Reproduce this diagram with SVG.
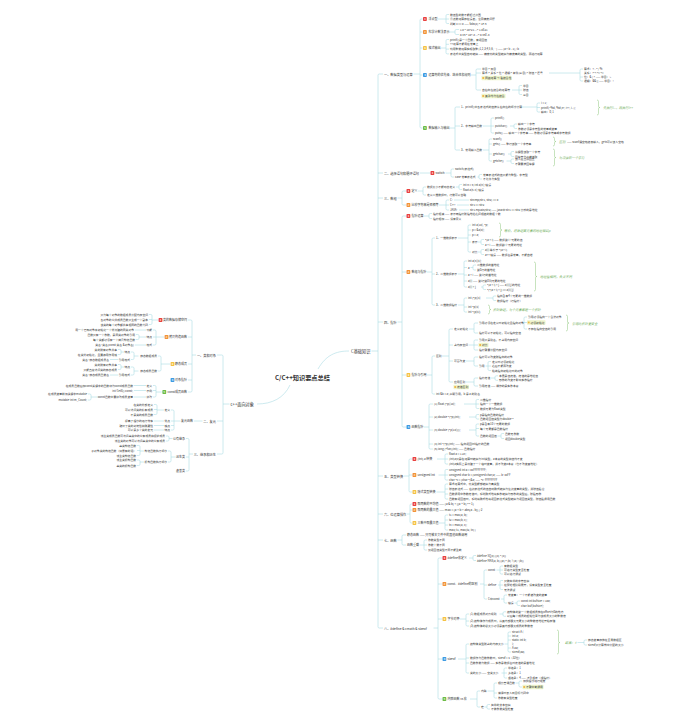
<svg xmlns="http://www.w3.org/2000/svg" width="675" height="715" viewBox="0 0 675 715">
<style>
text{font-family:"Noto Sans CJK SC","Noto Sans",sans-serif;font-size:2.8px;fill:#333;dominant-baseline:central}
.root{font-size:6.2px;font-weight:bold;text-anchor:middle}
.m{font-size:4.2px}
.h1{font-size:3.2px}
.h2{font-size:3px}
.e{text-anchor:end}
.g{fill:#6fae5a;font-style:italic;font-size:3.2px}
.n{fill:#fff;font-size:2.6px;font-weight:bold;text-anchor:middle}
.c{fill:none;stroke:#a3d9e1;stroke-width:.55}
.b{fill:none;stroke:#8fc67c;stroke-width:.5}
.i1{fill:#e8413f}.i2{fill:#f29337}.i3{fill:#f5c243}.i4{fill:#3e9be2}.i5{fill:#6dbb45}
.hl{fill:#eef5cb}.pn{fill:#f0b340}
</style>
<rect width="675" height="715" fill="#fff"/>
<g id="connectors">
<path class="c" d="M318 369C326 355 336 351 349 351M290 385C284 398 272 404 257 404"/>
<path class="c" d="M371.5 351H378M383 74H379.2Q378 74 378 75.2V626.8Q378 628 379.2 628H383M378 173H383M378 198H383M378 322H383M378 476H383M378 514H383M378 540H383"/>
<path class="c" d="M413.5 74H420M422.5 19H421.2Q420 19 420 20.2V126.8Q420 128 421.2 128H422.5M420 32H422.5M420 48H422.5M420 75H422.5"/>
<path class="c" d="M437.5 19H446M449 14.5H447.2Q446 14.5 446 15.7V22.3Q446 23.5 447.2 23.5H449M446 19H449"/>
<path class="c" d="M449.5 32H455M459 29.5H456.2Q455 29.5 455 30.7V33.3Q455 34.5 456.2 34.5H459"/>
<path class="c" d="M440.5 48H446M449 39.5H447.2Q446 39.5 446 40.7V52.7Q446 53.9 447.2 53.9H449M446 44.3H449M446 49.1H449"/>
<path class="c" d="M470.5 75H476M481 69H477.2Q476 69 476 70.2V88.8Q476 90 477.2 90H481M476 73H481"/>
<path class="c" d="M549 73H580M583 69H581.2Q580 69 580 70.2V79.8Q580 81 581.2 81H583M580 77H583"/>
<path class="c" d="M512 90H519M522 85.5H520.2Q519 85.5 519 86.7V93.3Q519 94.5 520.2 94.5H522M519 90H522"/>
<path class="c" d="M449.5 128H455M460 107H456.2Q455 107 455 108.2V148.8Q455 150 456.2 150H460M455 126H460"/>
<path class="c" d="M521 107H537M540 103H538.2Q537 103 537 104.2V110.8Q537 112 538.2 112H540M537 107.5H540"/>
<path class="c" d="M483 126H491M494 118H492.2Q491 118 491 119.2V131.8Q491 133 492.2 133H494M491 126H494"/>
<path class="c" d="M510 126H514M517 124H515.2Q514 124 514 125.2V127.3Q514 128.5 515.2 128.5H517"/>
<path class="c" d="M483 150H489M492 139H490.2Q489 139 489 140.2V159.8Q489 161 490.2 161H492M489 144H492M489 154H492"/>
<path class="c" d="M508 154H511M514 151.5H512.2Q511 151.5 511 152.7V155.3Q511 156.5 512.2 156.5H514"/>
<path class="c" d="M506.5 161H511M514 159H512.2Q511 159 511 160.2V162.3Q511 163.5 512.2 163.5H514"/>
<path class="c" d="M420 173H430M445.5 173H451M454 169H452.2Q451 169 451 170.2V175.8Q451 177 452.2 177H454"/>
<path class="c" d="M477.5 177H479M482 174.5H480.2Q479 174.5 479 175.7V177.8Q479 179 480.2 179H482"/>
<path class="c" d="M397.5 198H402M406 191H403.2Q402 191 402 192.2V203.8Q402 205 403.2 205H406"/>
<path class="c" d="M418 191H423M426 187H424.2Q423 187 423 188.2V193.8Q423 195 424.2 195H426"/>
<path class="c" d="M456 187H459M462 184.5H460.2Q459 184.5 459 185.7V188.3Q459 189.5 460.2 189.5H462"/>
<path class="c" d="M439 205H446M449 200H447.2Q446 200 446 201.2V208.8Q446 210 447.2 210H449M446 205H449M454 200H469M457 205H469M459 210H469"/>
<path class="c" d="M397.5 322H402M406 216H403.2Q402 216 402 217.2V425.8Q402 427 403.2 427H406M402 272H406M402 375H406"/>
<path class="c" d="M424 216H429M432 213.5H430.2Q429 213.5 429 214.7V217.3Q429 218.5 430.2 218.5H432"/>
<path class="c" d="M427 272H432M435 238H433.2Q432 238 432 239.2V303.8Q432 305 433.2 305H435M432 274H435"/>
<path class="c" d="M458 238H468M471 225H469.2Q468 225 468 226.2V250.8Q468 252 469.2 252H471M468 230H471M468 235H471M468 242H471"/>
<path class="c" d="M478 242H481M484 239.5H482.2Q481 239.5 481 240.7V243.3Q481 244.5 482.2 244.5H484"/>
<path class="c" d="M478 252H481M484 249.5H482.2Q481 249.5 481 250.7V253.3Q481 254.5 482.2 254.5H484"/>
<path class="c" d="M458 274H464M467 261H465.2Q464 261 464 262.2V285.8Q464 287 465.2 287H467M464 267.5H467M464 275H467M464 281H467"/>
<path class="c" d="M470.5 267.5H473M476 265H474.2Q473 265 473 266.2V268.8Q473 270 474.2 270H476"/>
<path class="c" d="M481 287H483M486 285H484.2Q483 285 483 286.2V288.3Q483 289.5 484.2 289.5H486"/>
<path class="c" d="M458 305H464M467 298H465.2Q464 298 464 299.2V310.8Q464 312 465.2 312H467M464 307H467"/>
<path class="c" d="M486 298H493M496 296H494.2Q493 296 493 297.2V299.3Q493 300.5 494.2 300.5H496"/>
<path class="c" d="M427 375H432M435 356H433.2Q432 356 432 357.2V392.8Q432 394 433.2 394H435"/>
<path class="c" d="M442 356H449M453 329H450.2Q449 329 449 330.2V380.8Q449 382 450.2 382H453M449 345H453M449 361H453"/>
<path class="c" d="M469 329H474M478 323H475.2Q474 323 474 324.2V331.8Q474 333 475.2 333H478"/>
<path class="c" d="M522 323H524M527 317H525.2Q524 317 524 318.2V327.8Q524 329 525.2 329H527M524 322.5H527"/>
<path class="c" d="M469 345H474M478 340H475.2Q474 340 474 341.2V348.8Q474 350 475.2 350H478M474 345H478"/>
<path class="c" d="M466 361H474M478 357H475.2Q474 357 474 358.2V364.8Q474 366 475.2 366H478"/>
<path class="c" d="M485.5 366H488M491 361.5H489.2Q488 361.5 488 362.7V369.3Q488 370.5 489.2 370.5H491M488 366H491"/>
<path class="c" d="M466 382H474M478 378H475.2Q474 378 474 379.2V384.8Q474 386 475.2 386H478"/>
<path class="c" d="M491 378H495M498 375.8H496.2Q495 375.8 495 377V379.1Q495 380.3 496.2 380.3H498"/>
<path class="c" d="M424 427H429M433 404H430.2Q429 404 429 405.2V447.8Q429 449 430.2 449H433M429 417H433M429 430H433M429 444H433"/>
<path class="c" d="M464 404H476M479 399.5H477.2Q476 399.5 476 400.7V407.3Q476 408.5 477.2 408.5H479M476 404H479"/>
<path class="c" d="M469 417H476M479 414.5H477.2Q476 414.5 476 415.7V417.8Q476 419 477.2 419H479"/>
<path class="c" d="M469 430H476M479 424H477.2Q476 424 476 425.2V434.8Q476 436 477.2 436H479M476 428.5H479"/>
<path class="c" d="M497.5 436H501M504 433.5H502.2Q501 433.5 501 434.7V437.3Q501 438.5 502.2 438.5H504"/>
<path class="c" d="M404 476H409M412 459H410.2Q409 459 409 460.2V490.8Q409 492 410.2 492H412M409 475H412"/>
<path class="c" d="M437 459H445M448 454H446.2Q445 454 445 455.2V462.8Q445 464 446.2 464H448M445 459H448"/>
<path class="c" d="M438.5 475H445M448 469.5H446.2Q445 469.5 445 470.7V478.8Q445 480 446.2 480H448M445 475H448"/>
<path class="c" d="M436.5 492H445M448 484H446.2Q445 484 445 485.2V497.8Q445 499 446.2 499H448M445 489H448M445 494H448"/>
<path class="c" d="M407 514H410M412 504H411.2Q410 504 410 505.2V521.8Q410 523 411.2 523H412M410 510H412"/>
<path class="c" d="M439 523H445M448 515H446.2Q445 515 445 516.2V528.8Q445 530 446.2 530H448M445 520H448M445 525H448"/>
<path class="c" d="M397.5 540H402M406 535H403.2Q402 535 402 536.2V543.8Q402 545 403.2 545H406"/>
<path class="c" d="M419.5 545H424M427 540H425.2Q424 540 424 541.2V548.8Q424 550 425.2 550H427M424 545H427"/>
<path class="c" d="M433.5 628H438M442 558H439.2Q438 558 438 559.2V697.8Q438 699 439.2 699H442M438 584H442M438 619H442M438 659H442"/>
<path class="c" d="M469 558H473M476 555.5H474.2Q473 555.5 473 556.7V559.3Q473 560.5 474.2 560.5H476"/>
<path class="c" d="M480 584H484M487 570H485.2Q484 570 484 571.2V597.8Q484 599 485.2 599H487M484 585H487"/>
<path class="c" d="M496.5 570H500M503 566H501.2Q500 566 500 567.2V572.8Q500 574 501.2 574H503M500 570H503"/>
<path class="c" d="M498 585H500M503 580.5H501.2Q500 580.5 500 581.7V588.3Q500 589.5 501.2 589.5H503M500 585H503"/>
<path class="c" d="M501 599H504M507 595H505.2Q504 595 504 596.2V601.8Q504 603 505.2 603H507"/>
<path class="c" d="M514.5 603H517M520 601H518.2Q517 601 517 602.2V604.3Q517 605.5 518.2 605.5H520"/>
<path class="c" d="M460 619H466M469 614H467.2Q466 614 466 615.2V624.8Q466 626 467.2 626H469M466 621H469"/>
<path class="c" d="M499.5 614H503M506 611.8H504.2Q503 611.8 503 613V615.1Q503 616.3 504.2 616.3H506"/>
<path class="c" d="M458 659H466M469 644H467.2Q466 644 466 645.2V671.8Q466 673 467.2 673H469M466 658H469M466 663H469"/>
<path class="c" d="M504.5 644H508M511 632H509.2Q508 632 508 633.2V650.8Q508 652 509.2 652H511M508 636H511M508 640H511M508 648H511"/>
<path class="c" d="M577.5 642.5H584M587 640H585.2Q584 640 584 641.2V643.8Q584 645 585.2 645H587"/>
<path class="c" d="M501.5 673H504M507 668H505.2Q504 668 504 669.2V676.8Q504 678 505.2 678H507M504 673H507"/>
<path class="c" d="M470 699H477M480 691H478.2Q477 691 477 692.2V705.8Q477 707 478.2 707H480"/>
<path class="c" d="M487.5 691H494M497 683H495.2Q494 683 494 684.2V696.8Q494 698 495.2 698H497M494 693H497"/>
<path class="c" d="M515.5 683H519M522 681H520.2Q519 681 519 682.2V685.8Q519 687 520.2 687H522"/>
<path class="c" d="M484.5 707H487M490 704.5H488.2Q487 704.5 487 705.7V707.8Q487 709 488.2 709H490"/>
<path class="c" d="M229.5 404H223M217 355H221.8Q223 355 223 356.2V452.8Q223 454 221.8 454H217M223 421H217"/>
<path class="c" d="M196 355H192M188 320H190.8Q192 320 192 321.2V390.8Q192 392 190.8 392H188M192 337H188M192 364H188M192 380H188"/>
<path class="c" d="M158 320H152M149 314.5H150.8Q152 314.5 152 315.7V323.3Q152 324.5 150.8 324.5H149M152 319.5H149"/>
<path class="c" d="M164 337H156M153 330H154.8Q156 330 156 331.2V343.8Q156 345 154.8 345H153M156 337H153M146 330H135M146 345H135"/>
<path class="c" d="M146 337H139M136 334.5H137.8Q139 334.5 139 335.7V338.3Q139 339.5 137.8 339.5H136"/>
<path class="c" d="M170 364H161M158 356H159.8Q161 356 161 357.2V369.8Q161 371 159.8 371H158"/>
<path class="c" d="M138.5 356H134M131 352H132.8Q134 352 134 353.2V358.3Q134 359.5 132.8 359.5H131M118.3 359.5H110"/>
<path class="c" d="M124 352H121M118 349.5H119.8Q121 349.5 121 350.7V353.3Q121 354.5 119.8 354.5H118"/>
<path class="c" d="M138.5 371H134M131 367H132.8Q134 367 134 368.2V373.8Q134 375 132.8 375H131M118.3 375H110"/>
<path class="c" d="M124 367H121M118 364.5H119.8Q121 364.5 121 365.7V368.3Q121 369.5 119.8 369.5H118"/>
<path class="c" d="M161.7 392H156M153 385.5H154.8Q156 385.5 156 386.7V395.8Q156 397 154.8 397H153M156 390.5H153M146 385.5H134M146 390.5H134M146 397H134"/>
<path class="c" d="M99.5 397H91M88 394H89.8Q91 394 91 395.2V398.8Q91 400 89.8 400H88"/>
<path class="c" d="M202.5 421H194M180.5 421H174M171 410H172.8Q174 410 174 411.2V428.8Q174 430 172.8 430H171M174 421H171M174 425.5H171"/>
<path class="c" d="M164 410H157M154 404.5H155.8Q157 404.5 157 405.7V413.3Q157 414.5 155.8 414.5H154M157 409.5H154M164 421H154M164 425.5H154M164 430H154"/>
<path class="c" d="M193 454H189M186 438.5H187.8Q189 438.5 189 439.7V469.8Q189 471 187.8 471H186M189 457H186"/>
<path class="c" d="M172.5 438.5H169M166 436H167.8Q169 436 169 437.2V439.8Q169 441 167.8 441H166"/>
<path class="c" d="M175.5 457H171M168 451H169.8Q171 451 171 452.2V460.8Q171 462 169.8 462H168"/>
<path class="c" d="M144 451H140M137 445.5H138.8Q140 445.5 140 446.7V454.3Q140 455.5 138.8 455.5H137M140 450.5H137"/>
<path class="c" d="M144 462H140M137 460H138.8Q140 460 140 461.2V464.3Q140 465.5 138.8 465.5H137"/>
</g>
<g id="braces">
<path class="b" d="M597 100Q598.5 100 598.5 101.5V106.5Q598.5 107.5 600 107.5Q598.5 107.5 598.5 108.5V113.5Q598.5 115 597 115"/>
<path class="b" d="M553 137Q554.5 137 554.5 138.5V140.5Q554.5 141.5 556 141.5Q554.5 141.5 554.5 142.5V144.5Q554.5 146 553 146"/>
<path class="b" d="M553 149Q554.5 149 554.5 150.5V156.5Q554.5 157.5 556 157.5Q554.5 157.5 554.5 158.5V164.5Q554.5 166 553 166"/>
<path class="b" d="M499 223Q500.5 223 500.5 224.5V229Q500.5 230 502 230Q500.5 230 500.5 231V235.5Q500.5 237 499 237"/>
<path class="b" d="M534 262Q535.5 262 535.5 263.5V275.5Q535.5 276.5 537 276.5Q535.5 276.5 535.5 277.5V289.5Q535.5 291 534 291"/>
<path class="b" d="M488 305Q489.5 305 489.5 306.5V308.5Q489.5 309.5 491 309.5Q489.5 309.5 489.5 310.5V312.5Q489.5 314 488 314"/>
<path class="b" d="M566 315Q567.5 315 567.5 316.5V322Q567.5 323 569 323Q567.5 323 567.5 324V329.5Q567.5 331 566 331"/>
<path class="b" d="M557 630Q558.5 630 558.5 631.5V641.5Q558.5 642.5 560 642.5Q558.5 642.5 558.5 643.5V652.5Q558.5 654 557 654"/>
</g>
<g id="root"><text class="root" x="302.5" y="377">C/C++知识要点总结</text></g>
<g id="c-basic"><text class="m" x="351" y="351">C基础知识</text></g>
<g id="cpp-oop"><text class="m e" x="254" y="404">c++面向对象</text></g>
<g id="s1"><text class="h1" x="384" y="74">一、数据类型与运算</text></g>
<g id="s1-1"><rect class="i1" x="423" y="17.1" width="3.8" height="3.8" rx=".7"/><text class="n" x="424.9" y="19.1">1</text><text class="h2" x="428.5" y="19">浮点型</text>
<text x="450" y="14.5">数值型的数不能超过范围</text><text x="450" y="19">浮点数运算存在误差，注意精度问题</text><text x="450" y="23.5">判断 x == 0  ——  fabs(x) &lt; 1e-6</text></g>
<g id="s1-2"><rect class="i2" x="423" y="30.1" width="3.8" height="3.8" rx=".7"/><text class="n" x="424.9" y="32.1">2</text><text class="h2" x="428.5" y="32">科学计数法表示</text>
<text x="460" y="29.5">1.0 * 10^21  --&gt;  1.0E21</text><text x="460" y="34.5">0.36 * 10^-8  --&gt;  0.36E-8</text></g>
<g id="s1-3"><rect class="i3" x="423" y="46.1" width="3.8" height="3.8" rx=".7"/><text class="n" x="424.9" y="48.1">3</text><text class="h2" x="428.5" y="48">格式输出</text>
<text x="450" y="39.5">printf()是一个函数，有返回值</text><text x="450" y="44.3">++运算不能用在常量上</text><text x="450" y="49.1">利用整数运算实现取整 (1,2,3,4,5,6,…)  ——  (a + b - 1) / b</text><text x="450" y="53.9">表达式中类型自动转换  ——  精度低的类型转换为精度高的类型，再进行运算</text></g>
<g id="s1-4"><rect class="i4" x="423" y="73.1" width="3.8" height="3.8" rx=".7"/><text class="n" x="424.9" y="75.1">4</text><text class="h2" x="428.5" y="75">运算符的优先级、结合性和规则</text>
<text x="482" y="69">单目 &gt; 双目</text><text x="482" y="73">算术  &gt;  关系  &gt;  位  &gt;  逻辑  &gt;  条件(三目)  &gt;  赋值  &gt;  逗号</text>
<rect class="hl" x="481.5" y="75.8" width="30" height="4.4" rx=".6"/><rect class="pn" x="482.3" y="77.1" width="1.8" height="1.8"/><text x="485" y="78">同级运算 → 看结合性</text>
<text x="482" y="90">自右向左结合的运算符</text>
<rect class="hl" x="481.5" y="93.8" width="24" height="4.4" rx=".6"/><rect class="pn" x="482.3" y="95.1" width="1.8" height="1.8"/><text x="485" y="96">其余均为左结合</text>
<text x="584" y="69">算术：+  -  *  /  %</text><text x="584" y="73">关系：&gt;  &lt;  &gt;=  &lt;=</text><text x="584" y="77">位：&amp;  |  ^  ——  单目：~</text><text x="584" y="81">逻辑：&amp;&amp;  ||  ——  单目：!</text>
<text x="523" y="85.5">单目</text><text x="523" y="90">赋值</text><text x="523" y="94.5">三目</text></g>
<g id="s1-5"><rect class="i5" x="423" y="126.1" width="3.8" height="3.8" rx=".7"/><text class="n" x="424.9" y="128.1">5</text><text class="h2" x="428.5" y="128">数据输入与输出</text>
<text x="461" y="107">1、printf()中各表达式的值按从右向左的顺序计算</text>
<text x="541" y="103">i = 1;</text><text x="541" y="107.5">printf("%d, %d\n", i++, i--);</text><text x="541" y="112">输出：0, 1</text><text class="g" x="603" y="107.5">先执行i--，再执行i++</text>
<text x="461" y="126">2、字符输出函数</text><text x="495" y="118">printf()</text><text x="495" y="126">putchar()</text><text x="518" y="124">输出一个字符</text><text x="518" y="128.5">参数必须是字符型的常量或变量</text><text x="495" y="133">puts()  ——  输出一个字符串  ——  参数必须是字符串或字符数组</text>
<text x="461" y="150">3、常用输入函数</text><text x="493" y="139">scanf()</text><text x="493" y="144">gets()  ——  整行读取一个字符串</text>
<text class="g" x="559" y="141.5">区别</text><text x="567" y="141.5">——  scanf遇空格结束输入，gets可以读入空格</text>
<text x="493" y="154">getchar()</text><text x="515" y="151.5">从键盘读取一个字符</text><text x="515" y="156.5">回车符也会被读取</text>
<text x="493" y="161">getche()</text><text x="515" y="159">读入后立即回显</text><text x="515" y="163.5">不需要按回车键</text>
<text class="g" x="559" y="157.5">每次读取一个字符</text></g>
<g id="s2"><text class="h1" x="384" y="173">二、选择语句和循环语句</text>
<rect class="i1" x="430.5" y="171.1" width="3.8" height="3.8" rx=".7"/><text class="n" x="432.4" y="173.1">1</text><text class="h2" x="435.5" y="173">switch</text>
<text x="455" y="169">switch(表达式)</text><text x="455" y="177">case 常量表达式</text><text x="483" y="174.5">常量表达式的值只能为整型、字符型</text><text x="483" y="179">不允许为实型</text></g>
<g id="s3"><text class="h1" x="384" y="198">三、数组</text></g>
<g id="s3-1"><rect class="i1" x="406.5" y="189.1" width="3.8" height="3.8" rx=".7"/><text class="n" x="408.4" y="191.1">1</text><text class="h2" x="411.5" y="191">定义</text>
<text x="427" y="187">数组大小不能动态定义</text><text x="463" y="184.5">int n = 5;  int a[n];  错误</text><text x="463" y="189.5">float a[5.3];  错误</text><text x="427" y="195">定义二维数组时，行数可以省略</text></g>
<g id="s3-2"><rect class="i2" x="406.5" y="203.1" width="3.8" height="3.8" rx=".7"/><text class="n" x="408.4" y="205.1">2</text><text class="h2" x="411.5" y="205">比较字符串是否相等</text>
<text x="450" y="200">C:</text><text x="450" y="205">C++:</text><text x="450" y="210">JAVA:</text><text x="470" y="200">strcmp(str1, str2) == 0</text><text x="470" y="205">str1 == str2</text><text x="470" y="210">str1.equals(str2)  ——  java中 str1 == str2 比较的是地址</text></g>
<g id="s4"><text class="h1" x="384" y="322">四、指针</text></g>
<g id="s4-1"><rect class="i1" x="406.5" y="214.1" width="3.8" height="3.8" rx=".7"/><text class="n" x="408.4" y="216.1">1</text><text class="h2" x="411.5" y="216">指针运算</text>
<text x="433" y="213.5">指针相减  ——  表示两指针所指地址之间相差的数据个数</text><text x="433" y="218.5">指针相加  ——  没有意义</text></g>
<g id="s4-2"><rect class="i2" x="406.5" y="270.1" width="3.8" height="3.8" rx=".7"/><text class="n" x="408.4" y="272.1">2</text><text class="h2" x="411.5" y="272">数组与指针</text>
<text x="436" y="238">1、一维数组表示</text><text x="472" y="225">int a[10], *p;</text><text x="472" y="230">p = &amp;a[0];</text><text x="472" y="235">p = a;</text><text class="g" x="504" y="230">等价，将数组首元素的地址赋给p</text>
<text x="472" y="242">表示</text><text x="485" y="239.5">*(a + i)  ——  数组第i个元素的值</text><text x="485" y="244.5">a + i  ——  数组第i个元素的地址</text>
<text x="472" y="252">对比</text><text x="485" y="249.5">a[i] 等价于 *(a + i)</text><text x="485" y="254.5">a++ 错误  ——  数组名是常量，不能自增</text>
<text x="436" y="274">2、二维数组表示</text><text x="468" y="261">int a[3][4];</text><text x="468" y="267.5">a</text><text x="477" y="265">二维数组的首地址</text><text x="477" y="270">第0行的首地址</text>
<text x="468" y="275">a + i  ——  第i行的首地址</text><text x="468" y="281">a[i]  ——  第i行第0列元素的地址</text><text x="468" y="287">a[i] + j</text><text x="487" y="285">*(a + i) + j  ——  a[i][j]的地址</text><text x="487" y="289.5">*(*(a + i) + j)  ==  a[i][j]</text>
<text class="g" x="540" y="276.5">地址值相同，含义不同</text>
<text x="436" y="305">3、二维数组指针</text><text x="468" y="298">int (*p)[4]</text><text x="497" y="296">指向含有4个元素的一维数组</text><text x="497" y="300.5">数组指针（行指针）</text>
<text x="468" y="307">int *p[4]</text><text x="468" y="312">int *(p[4])</text><text class="g" x="493" y="309.5">指针数组，每个元素都是一个指针</text></g>
<g id="s4-3"><rect class="i3" x="406.5" y="373.1" width="3.8" height="3.8" rx=".7"/><text class="n" x="408.4" y="375.1">3</text><text class="h2" x="411.5" y="375">指针与引用</text>
<text x="436" y="356">区别</text>
<text x="454" y="329">定义初始化</text><text x="479" y="323">引用必须在定义时初始化且指向对象</text>
<text x="528" y="317">引用必须指向一个合法对象</text><rect class="hl" x="527" y="320.3" width="18.5" height="4.4" rx=".6"/><rect class="pn" x="527.8" y="321.6" width="1.8" height="1.8"/><text x="530.5" y="322.5">必须初始化</text><text x="528" y="329">不存在指向空值的引用</text>
<text class="g" x="572" y="323">引用比指针更安全</text>
<text x="479" y="333">指针可以不初始化，可以指向空值</text>
<text x="454" y="345">占内存空间</text><text x="479" y="340">引用只是别名，不占用内存空间</text><rect class="hl" x="478.5" y="342.8" width="10" height="4.4" rx=".6"/><rect class="pn" x="479.3" y="344.1" width="1.8" height="1.8"/><text x="482" y="345">对比</text><text x="479" y="350">指针需要分配内存空间</text>
<text x="454" y="361">可否改变</text><text x="479" y="357">指针可以改变所指向的对象</text><text x="479" y="366">引用</text><text x="492" y="361.5">定义时必须初始化</text><text x="492" y="366">之后不能再改变</text><text x="492" y="370.5">始终指向初始化时的对象</text>
<text x="454" y="382">应用区别</text><rect class="hl" x="453.5" y="384.8" width="15.5" height="4.4" rx=".6"/><rect class="pn" x="454.3" y="386.1" width="1.8" height="1.8"/><text x="457" y="387">传递区别</text>
<text x="479" y="378">指针传递</text><text x="499" y="375.8">本质是值传递，传递的是地址值</text><text x="499" y="380.3">形参的改变不影响实参指针</text><text x="479" y="386">引用传递  ——  操作的是实参本身</text>
<text x="436" y="394">int &amp;b = a;  声明引用，b 是 a 的别名</text></g>
<g id="s4-4"><rect class="i4" x="406.5" y="425.1" width="3.8" height="3.8" rx=".7"/><text class="n" x="408.4" y="427.1">4</text><text class="h2" x="411.5" y="427">函数指针</text>
<text x="434" y="404">(1) float (*p)[10];</text><text x="480" y="399.5">二维指针</text><text x="480" y="404">指向一个一维数组</text><text x="480" y="408.5">数组元素为float类型</text>
<text x="434" y="417">(2) double *(*p)(int);</text><text x="480" y="414.5">p是指向函数的指针</text><text x="480" y="419">函数返回值类型为double *</text>
<text x="434" y="430">(3) double (*p[10])();</text><text x="480" y="424">p是含有10个元素的数组</text><text x="480" y="428.5">每个元素都是函数指针</text><text x="480" y="436">函数的返回值</text><text x="505" y="433.5">函数无参数</text><text x="505" y="438.5">返回double类型</text>
<text x="434" y="444">(4) int *(*p)(int);  ——  指向返回int指针的函数</text><text x="434" y="449">(5) long (*fun)(int);  ——  函数指针</text></g>
<g id="s5"><text class="h1" x="384" y="476">五、类型转换</text></g>
<g id="s5-1"><rect class="i1" x="412.5" y="457.1" width="3.8" height="3.8" rx=".7"/><text class="n" x="414.4" y="459.1">1</text><text class="h2" x="417.5" y="459">(int) a 转换</text>
<text x="449" y="454">float a = 1.23;</text><text x="449" y="459">(int)a只是在运算时转换为int类型，a本身的类型和值均不变</text><text x="449" y="464">(int)a实际上是创建了一个临时变量，并不改变a本身（也不改变其地址）</text></g>
<g id="s5-2"><rect class="i2" x="412.5" y="473.1" width="3.8" height="3.8" rx=".7"/><text class="n" x="414.4" y="475.1">2</text><text class="h2" x="417.5" y="475">unsigned int</text>
<text x="449" y="469.5">unsigned int a = 0xFFFFFFFF;</text><text x="449" y="475">unsigned char b = (unsigned char)a;   ——   b:   0xFF</text><text x="449" y="480">char *c = (char *)&amp;a;   ——   *c:   FFFFFFFF</text></g>
<g id="s5-3"><rect class="i3" x="412.5" y="490.1" width="3.8" height="3.8" rx=".7"/><text class="n" x="414.4" y="492.1">3</text><text class="h2" x="417.5" y="492">隐式类型转换</text>
<text x="449" y="484">算术运算式中，低类型能够转换为高类型</text><text x="449" y="489">赋值表达式 —— 右边表达式的值自动隐式转换为左边变量的类型，并赋值给它</text><text x="449" y="494">函数调用中参数传递时，系统隐式地将实参转换为形参的类型后，赋给形参</text><text x="449" y="499">函数有返回值时，系统将隐式地将返回表达式类型转换为返回值类型，赋值给调用函数</text></g>
<g id="s6"><text class="h1" x="384" y="514">六、位运算操作</text>
<rect class="i1" x="412.5" y="502.1" width="3.8" height="3.8" rx=".7"/><text class="n" x="414.4" y="504.1">1</text><text class="h2" x="417.5" y="504">取两数的平均值  ——  (a &amp; b) + ((a ^ b) &gt;&gt; 1)</text>
<rect class="i2" x="412.5" y="508.1" width="3.8" height="3.8" rx=".7"/><text class="n" x="414.4" y="510.1">2</text><text class="h2" x="417.5" y="510">取两数的最大值  ——  max = (a + b + abs(a - b)) / 2</text>
<rect class="i3" x="412.5" y="521.1" width="3.8" height="3.8" rx=".7"/><text class="n" x="414.4" y="523.1">3</text><text class="h2" x="417.5" y="523">三数中取最大值</text>
<text x="449" y="515">t1 = max(a, b);</text><text x="449" y="520">t2 = max(b, c);</text><text x="449" y="525">t3 = max(a, c);</text><text x="449" y="530">max( t1, max(t2, t3) )</text></g>
<g id="s7"><text class="h1" x="384" y="540">七、函数</text>
<text class="h2" x="407" y="535">静态函数  ——  只可被本文件中的其他函数调用</text><text class="h2" x="407" y="545">函数重载</text>
<text x="428" y="540">参数类型不同</text><text x="428" y="545">参数个数不同</text><text x="428" y="550">仅返回值类型不同不能重载</text></g>
<g id="s8"><text class="h1" x="384" y="628">八、#define &amp; cmath &amp; sizeof</text></g>
<g id="s8-1"><rect class="i1" x="442.5" y="556.1" width="3.8" height="3.8" rx=".7"/><text class="n" x="444.4" y="558.1">1</text><text class="h2" x="447.5" y="558">#define宏定义</text>
<text x="477" y="555.5">#define SQ(x)  ((x) * (x))</text><text x="477" y="560.5">#define MAX(a, b)     ((a) &gt; (b) ? (a) : (b))</text></g>
<g id="s8-2"><rect class="i2" x="442.5" y="582.1" width="3.8" height="3.8" rx=".7"/><text class="n" x="444.4" y="584.1">2</text><text class="h2" x="447.5" y="584">const、#define的区别</text>
<text x="488" y="570">const</text><text x="504" y="566">有数据类型</text><text x="504" y="570">可进行类型安全检查</text><text x="504" y="574">可以进行调试</text>
<text x="488" y="585">define</text><text x="504" y="580.5">只做简单的字符替换</text><text x="504" y="585">在预处理阶段展开，没有类型安全检查</text><text x="504" y="589.5">无法调试</text>
<text x="488" y="599">C中const</text><text x="508" y="595">常变量：一个不能被改变的变量</text><text x="508" y="603">错误</text><text x="521" y="601">const int bufsize = 100;</text><text x="521" y="605.5">char buf[bufsize];</text></g>
<g id="s8-3"><rect class="i3" x="442.5" y="617.1" width="3.8" height="3.8" rx=".7"/><text class="n" x="444.4" y="619.1">3</text><text class="h2" x="447.5" y="619">字节对齐</text>
<text x="470" y="614">(1) 数据成员对齐规则</text><text x="507" y="611.8">结构体的第一个数据成员放在offset为0的地方</text><text x="507" y="616.3">以后每个成员的起始位置为该成员大小的整数倍</text>
<text x="470" y="621">(2) 结构体作为成员时，从其内部最大元素大小的整数倍地址开始存储</text><text x="470" y="626">(3) 结构体的总大小必须是其内部最大成员的整数倍</text></g>
<g id="s8-4"><rect class="i4" x="442.5" y="657.1" width="3.8" height="3.8" rx=".7"/><text class="n" x="444.4" y="659.1">4</text><text class="h2" x="447.5" y="659">sizeof</text>
<text x="470" y="644">结构体类型所占的内存大小</text><text x="512" y="632">struct A {</text><text x="512" y="636">    int a;</text><text x="512" y="640">    static int b;</text><text x="512" y="644">};</text><text x="512" y="648">A aa;</text><text x="512" y="652">sizeof(aa)</text>
<text class="g" x="565" y="642.5">结果：4</text><text x="588" y="640">静态变量存放在全局数据区</text><text x="588" y="645">sizeof只计算栈中分配的大小</text>
<text x="470" y="658">数组作为函数参数时，sizeof = 4（32位）</text><text x="470" y="663">函数参数为数组  ——  实参是数组名时传递的是首地址</text>
<text x="470" y="673">类的大小  ——  空类大小</text><text x="508" y="668">单继承：1</text><text x="508" y="673">多继承：1</text><text x="508" y="678">虚继承：4  ——  涉及虚表（虚指针）</text></g>
<g id="s8-5"><rect class="i5" x="442.5" y="697.1" width="3.8" height="3.8" rx=".7"/><text class="n" x="444.4" y="699.1">5</text><text class="h2" x="447.5" y="699">内联函数 vs 宏</text>
<text x="481" y="691">内联</text><text x="498" y="683">相比普通函数</text><text x="523" y="681">加快程序运行速度</text><rect class="hl" x="522.5" y="684.8" width="21" height="4.4" rx=".6"/><rect class="pn" x="523.3" y="686.1" width="1.8" height="1.8"/><text x="526" y="687">不需中断调用</text>
<text x="498" y="693">编译时嵌入到目标代码中</text><text x="498" y="698">参数有类型检查</text>
<text x="481" y="707">宏</text><text x="491" y="704.5">简单的文本替换</text><text x="491" y="709">不做参数类型检查</text></g>
<g id="oop1"><text class="h1 e" x="216" y="355">一、类和对象</text></g>
<g id="oop1-1"><rect class="i1" x="158.6" y="318.1" width="3.8" height="3.8" rx=".7"/><text class="n" x="160.5" y="320.1">1</text><text class="h2 e" x="187" y="320">类的数据存储空间</text>
<text class="e" x="148" y="314.5">只为每个对象的数据成员分配内存空间</text><text class="e" x="148" y="319.5">各对象的公共成员函数只生成一个副本</text><text class="e" x="148" y="324.5">该类的每个对象都共享相同的函数代码</text></g>
<g id="oop1-2"><rect class="i2" x="164.6" y="335.1" width="3.8" height="3.8" rx=".7"/><text class="n" x="166.5" y="337.1">2</text><text class="h2 e" x="187" y="337">拷贝构造函数</text>
<text class="e" x="152" y="330">功能</text><text class="e" x="152" y="337">特点</text><text class="e" x="152" y="345">格式</text>
<text class="e" x="134" y="330">用一个已知对象来初始化一个新创建的同类对象</text><text class="e" x="135" y="334.5">函数只有一个参数，是同类对象的引用</text><text class="e" x="135" y="339.5">每个类都必须有一个拷贝构造函数</text><text class="e" x="134" y="345">类名::类名(const 类名 &amp;对象名)</text></g>
<g id="oop1-3"><rect class="i3" x="170.6" y="362.1" width="3.8" height="3.8" rx=".7"/><text class="n" x="172.5" y="364.1">3</text><text class="h2 e" x="187" y="364">静态成员</text>
<text class="e" x="157" y="356">静态数据成员</text><text class="e" x="130" y="352">特点</text><text class="e" x="117" y="349.5">类的所有对象共享</text><text class="e" x="117" y="354.5">在类外初始化，且要使用作用域</text><text class="e" x="130" y="359.5">引用格式</text><text class="e" x="109" y="359.5">类名::静态数据成员名</text>
<text class="e" x="157" y="371">静态成员函数</text><text class="e" x="130" y="367">特点</text><text class="e" x="117" y="364.5">类的所有对象共享</text><text class="e" x="117" y="369.5">只能直接访问类的静态成员</text><text class="e" x="130" y="375">引用格式</text><text class="e" x="109" y="375">类名::静态成员函数名</text></g>
<g id="oop1-4"><rect class="i4" x="170.6" y="378.1" width="3.8" height="3.8" rx=".7"/><text class="n" x="172.5" y="380.1">4</text><text class="h2 e" x="187" y="380">对象指针</text></g>
<g id="oop1-5"><rect class="i5" x="162.4" y="390.1" width="3.8" height="3.8" rx=".7"/><text class="n" x="164.3" y="392.1">5</text><text class="h2 e" x="187" y="392">const成员函数</text>
<text class="e" x="152" y="385.5">定义</text><text class="e" x="152" y="390.5">示例</text><text class="e" x="152" y="397">修改</text>
<text class="e" x="133" y="385.5">在成员函数后加const关键字的函数称为const成员函数</text><text class="e" x="133" y="390.5">int GetX() const;</text><text class="e" x="133" y="397">const函数中要修改成员变量</text>
<text class="e" x="87" y="394">在成员变量前加关键字mutable</text><text class="e" x="87" y="400">mutable int m_Count;</text></g>
<g id="oop2"><text class="h1 e" x="216" y="421">二、友元</text><text class="h2 e" x="193" y="421">友元函数</text>
<text class="e" x="170" y="410">定义</text><text class="e" x="170" y="421">优点</text><text class="e" x="170" y="425.5">缺点</text><text class="e" x="170" y="430">特点</text>
<text class="e" x="153" y="404.5">在类的外部定义</text><text class="e" x="153" y="409.5">可以访问类的私有成员</text><text class="e" x="153" y="414.5">不是类的成员函数</text>
<text class="e" x="153" y="421">提高了程序的运行效率</text><text class="e" x="153" y="425.5">破坏了类的封装性和隐藏性</text><text class="e" x="153" y="430">可以是多个类的友元</text></g>
<g id="oop3"><text class="h1 e" x="216" y="454">三、继承和派生</text>
<text class="h2 e" x="185" y="438.5">公有继承</text><text class="e" x="165" y="436">派生类成员函数可访问基类中的公有成员和保护成员</text><text class="e" x="165" y="441">派生类的对象可以访问基类中的公有成员</text>
<text class="h2 e" x="185" y="457">派生类</text><text class="e" x="167" y="451">构造函数执行顺序</text><text class="e" x="136" y="445.5">基类构造函数</text><text class="e" x="136" y="450.5">子对象类的构造函数（如果有的话）</text><text class="e" x="136" y="455.5">派生类构造函数</text>
<text class="e" x="167" y="462">析构函数执行顺序</text><text class="e" x="136" y="460">派生类析构函数</text><text class="e" x="136" y="465.5">基类的析构函数</text>
<text class="h2 e" x="185" y="471">虚基类</text></g>
</svg>
